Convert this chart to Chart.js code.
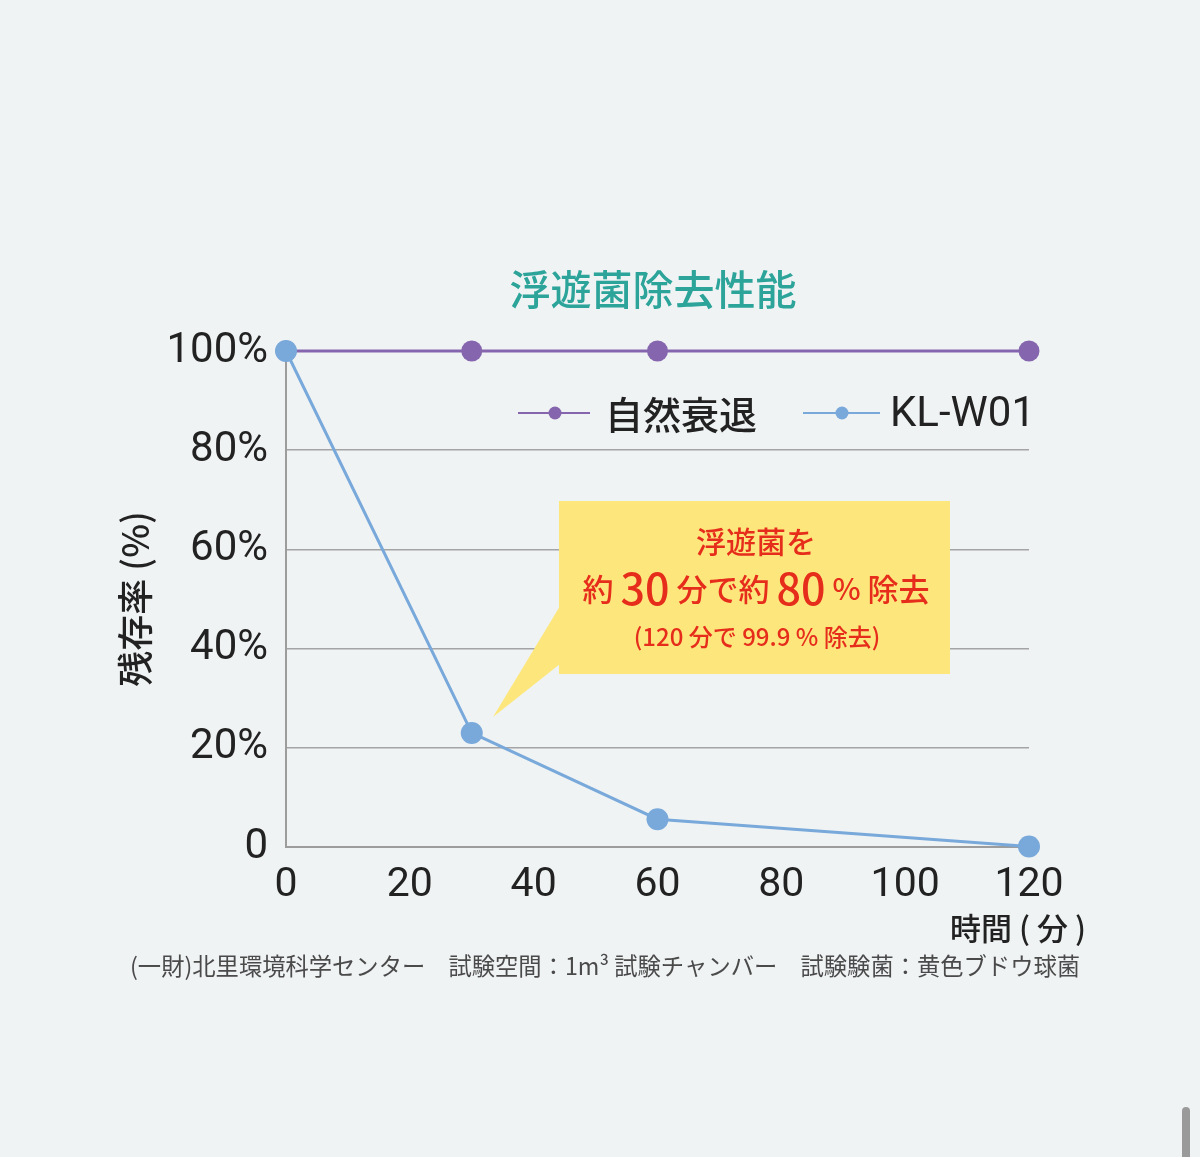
<!DOCTYPE html>
<html lang="ja">
<head>
<meta charset="utf-8">
<title>浮遊菌除去性能</title>
<script src="https://cdn.jsdelivr.net/npm/chart.js@4.4.1/dist/chart.umd.min.js"></script>
<style>
  html, body { margin: 0; padding: 0; background: #f0f3f4; overflow: hidden; }
  #wrap { position: relative; width: 1200px; height: 1157px; }
  #scroll { position: absolute; left: 1182px; top: 1107px; width: 8px; height: 56px; border-radius: 4px; background: #9a9a9a; }
</style>
</head>
<body>
<div id="wrap">
  <canvas id="chart" width="1200" height="1157"></canvas>
  <div id="scroll"></div>
</div>
<script>
// data
const minutes = [0, 30, 60, 120];
const naturalDecay = [100, 100, 100, 100];
const klw01 = [100, 23, 5.6, 0.1];
const seriesNames = ['自然衰退', 'KL-W01'];
const chartTitle = '浮遊菌除去性能';
const yTitle = '残存率 (%)';
const xTitle = '時間 ( 分 )';
const sourceNote = '(一財)北里環境科学センター　試験空間：1m³ 試験チャンバー　試験験菌：黄色ブドウ球菌';

const PURPLE = '#8566ae';
const BLUE = '#78a9da';
const JP = '"Noto Sans CJK JP", "Noto Sans", sans-serif';
const LATIN = 'Roboto, "Noto Sans", sans-serif';

function toPoints(ys) {
  return minutes.map((m, i) => ({ x: m, y: ys[i] }));
}

// title, legend, callout and notes
const extras = {
  id: 'extras',
  afterDraw(chart) {
    const ctx = chart.ctx;
    ctx.save();

    // title
    ctx.fillStyle = '#2ca49a';
    ctx.font = '500 41px ' + JP;
    ctx.textAlign = 'center';
    ctx.textBaseline = 'middle';
    ctx.fillText(chartTitle, 653, 289);

    // legend
    const items = [
      { ds: chart.data.datasets[1], x0: 518, x1: 590, dot: 555, tx: 605, font: '500 38px ' + JP },
      { ds: chart.data.datasets[0], x0: 803, x1: 880, dot: 842, tx: 890, font: '42px ' + LATIN }
    ];
    items.forEach(it => {
      ctx.strokeStyle = it.ds.borderColor;
      ctx.lineWidth = 2;
      ctx.beginPath();
      ctx.moveTo(it.x0, 413);
      ctx.lineTo(it.x1, 413);
      ctx.stroke();
      ctx.fillStyle = it.ds.pointBackgroundColor;
      ctx.beginPath();
      ctx.arc(it.dot, 413, 6.5, 0, Math.PI * 2);
      ctx.fill();
      ctx.fillStyle = '#222';
      ctx.font = it.font;
      ctx.textAlign = 'left';
      ctx.fillText(it.ds.label, it.tx, 415);
    });

    // callout box
    ctx.fillStyle = '#fde67b';
    ctx.fillRect(559, 501, 391, 173);
    ctx.beginPath();
    ctx.moveTo(560, 606);
    ctx.lineTo(560, 664);
    ctx.lineTo(493, 717);
    ctx.closePath();
    ctx.fill();

    ctx.fillStyle = '#e62d1c';
    ctx.textAlign = 'center';
    ctx.font = '500 30px ' + JP;
    ctx.fillText('浮遊菌を', 756, 542);

    const pieces = [
      ['約', '500 31px ' + JP],
      ['30', '500 43px ' + JP],
      ['分で約', '500 31px ' + JP],
      ['80', '500 43px ' + JP],
      ['%', '500 30px ' + JP],
      ['除去', '500 31px ' + JP]
    ];
    const gap = 7;
    let total = 0;
    pieces.forEach(p => { ctx.font = p[1]; p.w = ctx.measureText(p[0]).width; total += p.w; });
    total += gap * (pieces.length - 1);
    let px = 756 - total / 2;
    ctx.textAlign = 'left';
    pieces.forEach(p => {
      ctx.font = p[1];
      ctx.fillText(p[0], px, 589);
      px += p.w + gap;
    });

    ctx.textAlign = 'center';
    ctx.font = '500 24px ' + JP;
    ctx.fillText('(120 分で 99.9 % 除去)', 757, 637, 262);

    // x axis title
    ctx.fillStyle = '#222';
    ctx.font = '500 31px ' + JP;
    ctx.textAlign = 'right';
    ctx.fillText(xTitle, 1086, 928, 142);

    // source note
    ctx.fillStyle = '#4a4a4a';
    ctx.font = '24px ' + JP;
    ctx.textAlign = 'left';
    ctx.fillText(sourceNote, 130, 966, 950);

    ctx.restore();
  }
};

new Chart(document.getElementById('chart'), {
  type: 'line',
  data: {
    datasets: [
      {
        label: seriesNames[1],
        data: toPoints(klw01),
        borderColor: BLUE,
        backgroundColor: BLUE,
        pointBackgroundColor: BLUE,
        pointBorderWidth: 0,
        pointRadius: 11,
        borderWidth: 3,
        tension: 0,
        clip: false
      },
      {
        label: seriesNames[0],
        data: toPoints(naturalDecay),
        borderColor: PURPLE,
        backgroundColor: PURPLE,
        pointBackgroundColor: PURPLE,
        pointBorderWidth: 0,
        pointRadius: 10.5,
        borderWidth: 3,
        tension: 0,
        clip: false
      }
    ]
  },
  options: {
    responsive: false,
    animation: false,
    devicePixelRatio: 1,
    layout: { padding: { left: 114, right: 171, top: 351, bottom: 250 } },
    plugins: {
      legend: { display: false },
      title: { display: false },
      tooltip: { enabled: false }
    },
    scales: {
      x: {
        type: 'linear',
        min: 0,
        max: 120,
        ticks: { stepSize: 20, color: '#222', font: { family: LATIN, size: 41 }, padding: 14, maxRotation: 0 },
        grid: { display: false, drawTicks: false },
        border: { display: true, color: '#9c9c9c', width: 2 },
        afterFit(scale) { scale.height = 60; }
      },
      y: {
        min: 0,
        max: 100,
        ticks: {
          stepSize: 20,
          color: '#222',
          font: { family: LATIN, size: 42 },
          padding: 18,
          callback: v => (v === 0 ? '0' : v + '%')
        },
        grid: { color: '#a4a4a4', lineWidth: 1.5, drawTicks: false },
        border: { display: true, color: '#9c9c9c', width: 2 },
        title: {
          display: true,
          text: yTitle,
          color: '#222',
          font: { family: JP, size: 36, weight: '500' },
          padding: 0
        },
        afterFit(scale) { scale.width = 172; }
      }
    }
  },
  plugins: [extras]
});
</script>
</body>
</html>
